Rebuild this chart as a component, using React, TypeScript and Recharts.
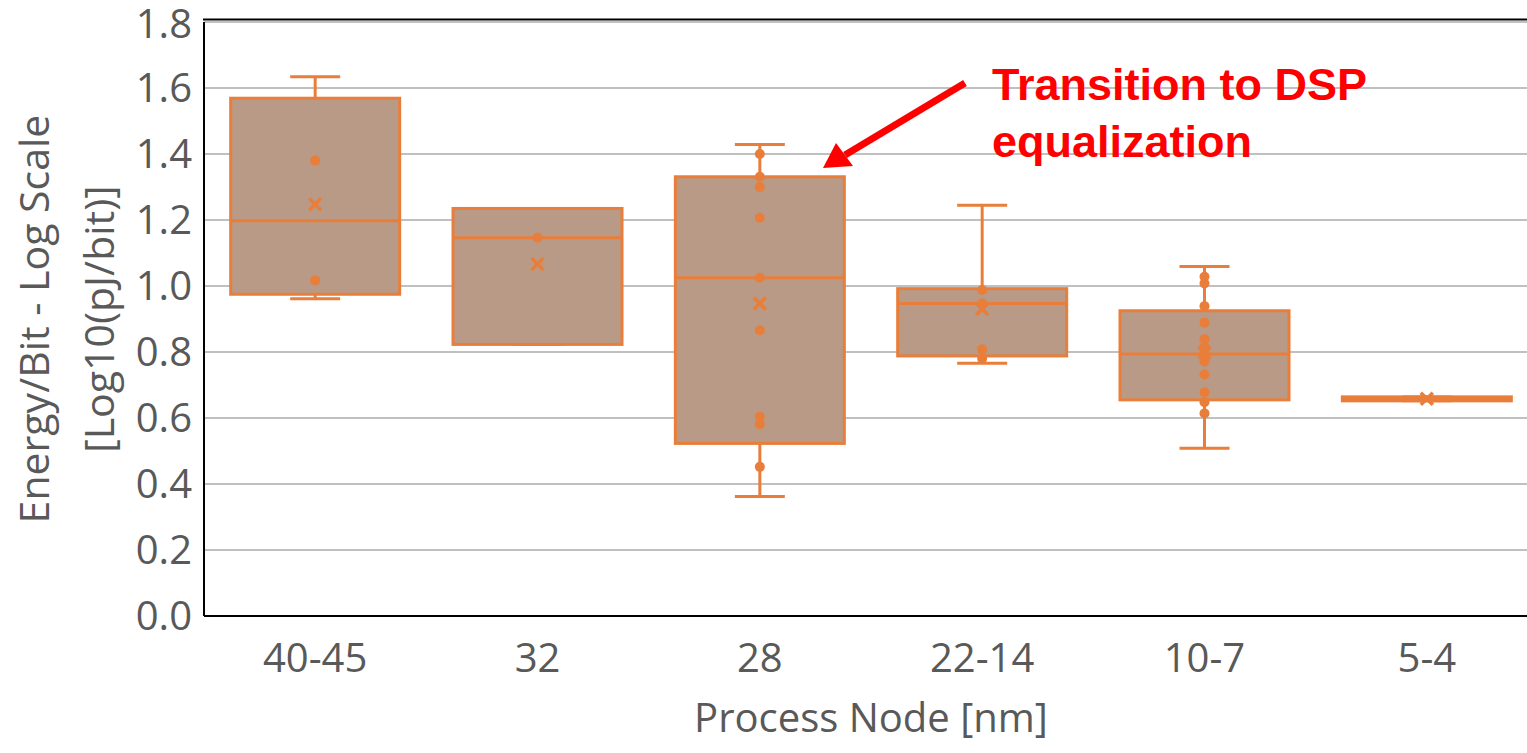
import React from 'react';
import { ComposedChart, Bar, Scatter, XAxis, YAxis, CartesianGrid } from 'recharts';

// process nodes and box-plot stats (log10 pJ/bit)
const nodes = ['40-45', '32', '28', '22-14', '10-7', '5-4'];
const whiskerLow = [0.961, 0.823, 0.362, 0.766, 0.508, 0.652];
const q1 = [0.975, 0.823, 0.523, 0.788, 0.655, 0.652];
const median = [1.198, 1.146, 1.025, 0.947, 0.794, 0.658];
const q3 = [1.569, 1.235, 1.331, 0.992, 0.925, 0.664];
const whiskerHigh = [1.634, 1.235, 1.429, 1.245, 1.059, 0.664];
const mean = [1.248, 1.067, 0.947, 0.93, 0.798, 0.658];
const innerPoints = [
  [1.38, 1.017],
  [1.146],
  [1.4, 1.331, 1.3, 1.207, 1.025, 0.866, 0.604, 0.581, 0.452],
  [0.988, 0.947, 0.808, 0.78],
  [1.028, 1.008, 0.939, 0.889, 0.839, 0.816, 0.794, 0.783, 0.771, 0.732, 0.678, 0.648, 0.614],
  [],
];
const yTicks = [0, 0.2, 0.4, 0.6, 0.8, 1.0, 1.2, 1.4, 1.6, 1.8];

const ORANGE = '#E97E3A';
const BOX_FILL = '#B89A86';
const TEXT = '#595959';
const FONT = '"Open Sans", sans-serif';

const data = nodes.map((node, i) => ({
  node,
  whisker: [whiskerLow[i], whiskerHigh[i]],
  box: [q1[i], q3[i]],
  median: median[i],
}));
const pointData = innerPoints.flatMap((vals, i) => vals.map((v) => ({ i, v })));
const meanData = mean.map((v, i) => ({ i, v }));

const WhiskerShape = (props: any) => {
  const { x, y, width, height } = props;
  const top = Math.min(y, y + height);
  const h = Math.abs(height);
  const cx = x + width / 2;
  const cap = 25;
  return (
    <g stroke={ORANGE} strokeWidth={3}>
      <line x1={cx} x2={cx} y1={top} y2={top + h} />
      <line x1={cx - cap} x2={cx + cap} y1={top} y2={top} />
      <line x1={cx - cap} x2={cx + cap} y1={top + h} y2={top + h} />
    </g>
  );
};

const BoxShape = (props: any) => {
  const { x, y, width, height, payload } = props;
  const top = Math.min(y, y + height);
  const h = Math.abs(height);
  const [lo, hi] = payload.box;
  const my = hi > lo ? top + (h * (hi - payload.median)) / (hi - lo) : top;
  return (
    <g>
      <rect x={x} y={top} width={width} height={h} fill={BOX_FILL} stroke={ORANGE} strokeWidth={3} />
      <line x1={x} x2={x + width} y1={my} y2={my} stroke={ORANGE} strokeWidth={3} />
    </g>
  );
};

const Dot = (props: any) => <circle cx={props.cx} cy={props.cy} r={5} fill={ORANGE} />;

const MeanMark = (props: any) => {
  const { cx, cy } = props;
  const s = 6;
  return (
    <g stroke={ORANGE} strokeWidth={3.5}>
      <line x1={cx - s} y1={cy - s} x2={cx + s} y2={cy + s} />
      <line x1={cx - s} y1={cy + s} x2={cx + s} y2={cy - s} />
    </g>
  );
};

const YTitle = (props: any) => {
  const vb = props.viewBox || { y: 22, height: 594 };
  const cy = vb.y + vb.height / 2;
  return (
    <g fill={TEXT} fontFamily={FONT} fontSize={41}>
      <text x={49} y={cy} textAnchor="middle" transform={`rotate(-90 49 ${cy})`}>
        Energy/Bit - Log Scale
      </text>
      <text x={114} y={cy} textAnchor="middle" transform={`rotate(-90 114 ${cy})`}>
        [Log10(pJ/bit)]
      </text>
    </g>
  );
};

export default function App() {
  return (
    <div style={{ position: 'absolute', left: 0, top: 0, width: 1527, height: 753, overflow: 'hidden', background: '#fff' }}>
      <ComposedChart
        width={1538}
        height={753}
        data={data}
        margin={{ top: 22, right: 0, left: 0, bottom: 0 }}
        barCategoryGap="12%"
      >
        <CartesianGrid vertical={false} stroke="#C0C0C0" strokeWidth={2} />
        <XAxis
          xAxisId="b"
          dataKey="node"
          height={137}
          tickLine={false}
          axisLine={{ stroke: '#000', strokeWidth: 2 }}
          tick={{ fill: TEXT, fontSize: 40, fontFamily: FONT }}
          tickMargin={22}
          label={{ value: 'Process Node [nm]', position: 'insideBottom', offset: 21, fill: TEXT, fontSize: 40, fontFamily: FONT }}
        />
        <XAxis xAxisId="w" dataKey="node" hide />
        <XAxis xAxisId="s" dataKey="i" type="number" domain={[-0.5, 5.5]} hide />
        <YAxis
          width={204}
          domain={[0, 1.8]}
          ticks={yTicks}
          tickFormatter={(v: number) => v.toFixed(1)}
          tickLine={false}
          tickMargin={6}
          axisLine={{ stroke: '#000', strokeWidth: 2 }}
          tick={{ fill: TEXT, fontSize: 40, fontFamily: FONT }}
          label={<YTitle />}
        />
        <Bar xAxisId="w" dataKey="whisker" shape={WhiskerShape} isAnimationActive={false} />
        <Bar xAxisId="b" dataKey="box" shape={BoxShape} isAnimationActive={false} />
        <Scatter xAxisId="s" data={pointData} dataKey="v" shape={Dot} isAnimationActive={false} />
        <Scatter xAxisId="s" data={meanData} dataKey="v" shape={MeanMark} isAnimationActive={false} />
      </ComposedChart>
      <svg width={1527} height={753} style={{ position: 'absolute', left: 0, top: 0, pointerEvents: 'none' }}>
        <line x1={203} y1={19.5} x2={1527} y2={19.5} stroke="#000" strokeWidth={2} />
        <line x1={965} y1={83} x2={845} y2={155} stroke="#FF0000" strokeWidth={7} />
        <polygon points="823,168 836,143 853,166" fill="#FF0000" />
        <g fill="#FF0000" fontFamily='"Liberation Sans", Arial, sans-serif' fontWeight="bold" fontSize={45}>
          <text x={992} y={100}>Transition to DSP</text>
          <text x={992} y={157}>equalization</text>
        </g>
      </svg>
    </div>
  );
}
